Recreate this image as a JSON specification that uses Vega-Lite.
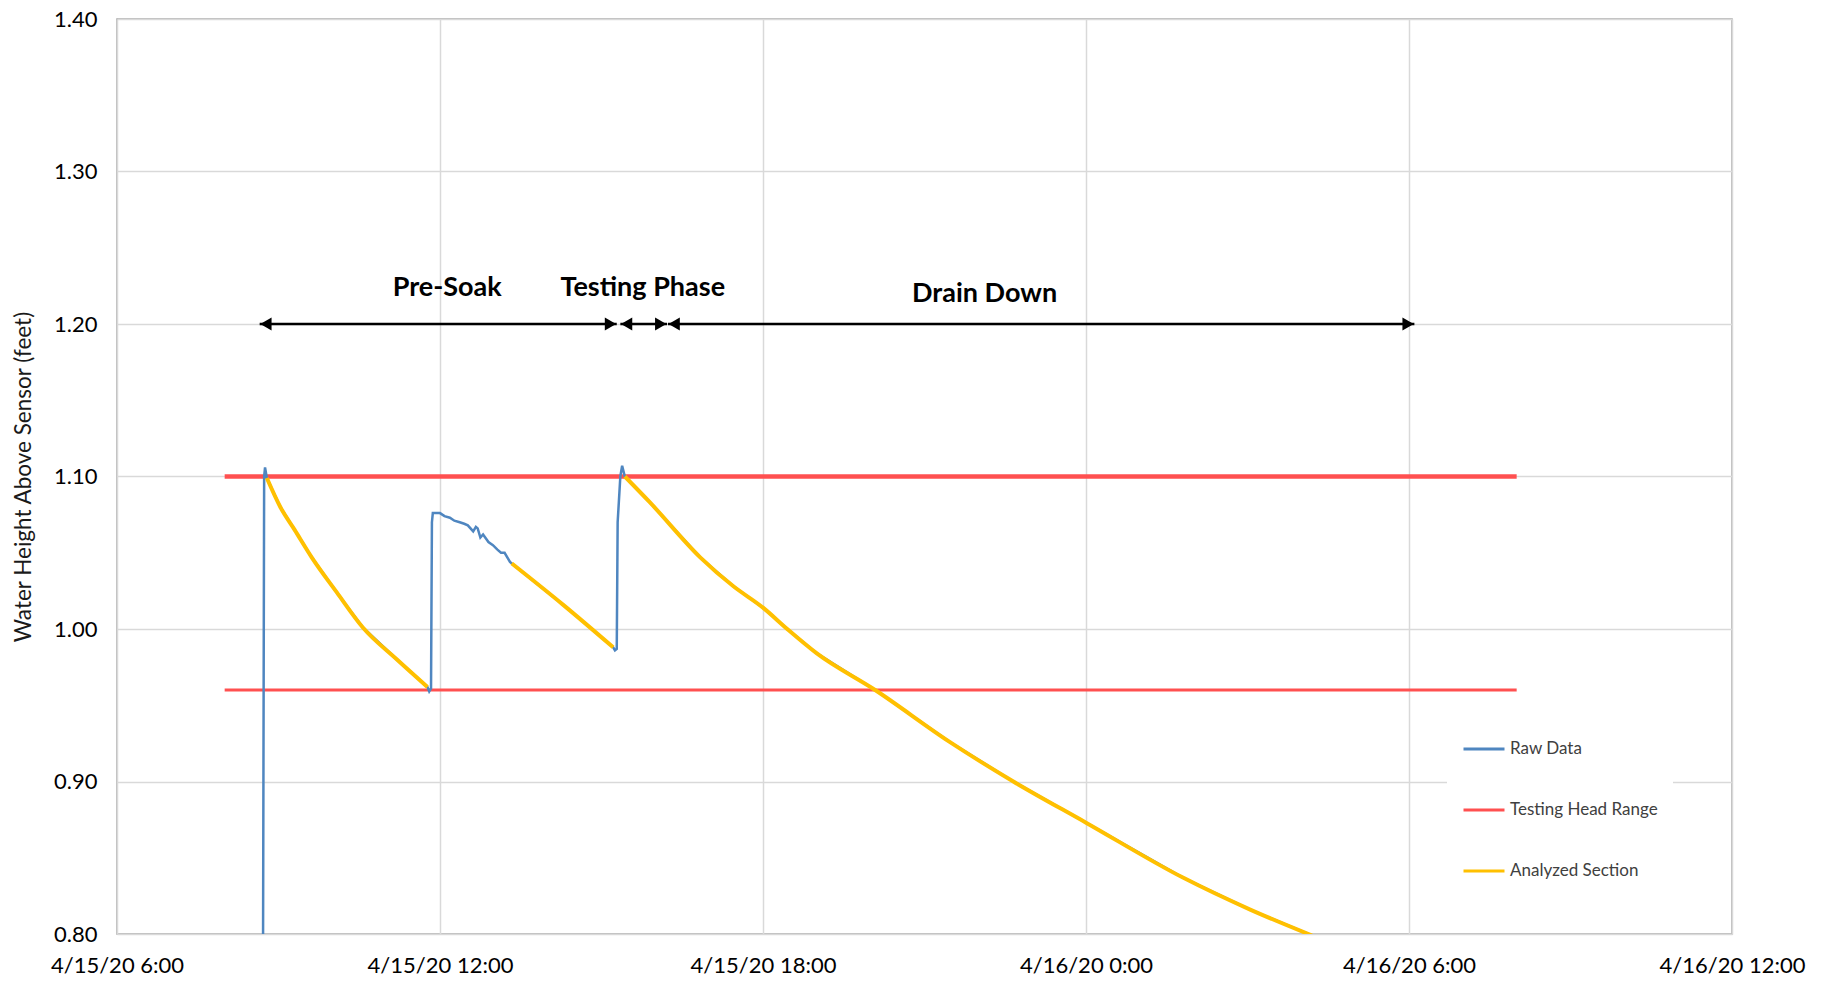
{
  "$schema": "https://vega.github.io/schema/vega-lite/v6.json",
  "width": 1615,
  "height": 915,
  "autosize": {"type": "none"},
  "padding": {"left": 117, "top": 19, "right": 95, "bottom": 47},
  "background": "white",
  "config": {
    "font": "Lato",
    "view": {"stroke": "#a6a6a6", "strokeWidth": 1.5},
    "axis": {
      "grid": true,
      "gridColor": "#d9d9d9",
      "gridWidth": 1.5,
      "domain": false,
      "ticks": false,
      "labelFontSize": 22,
      "labelColor": "#000000",
      "labelFont": "Lato"
    }
  },
  "datasets": {
    "lines": [
      {"series": "Testing Head Range", "seg": "hi", "t": "2020-04-15T08:00", "v": 1.10},
      {"series": "Testing Head Range", "seg": "hi", "t": "2020-04-16T08:00", "v": 1.10},
      {"series": "Testing Head Range", "seg": "lo", "t": "2020-04-15T08:00", "v": 0.96},
      {"series": "Testing Head Range", "seg": "lo", "t": "2020-04-16T08:00", "v": 0.96},

      {"series": "Raw Data", "seg": "raw", "t": "2020-04-15T08:42", "v": 0.60},
      {"series": "Raw Data", "seg": "raw", "t": "2020-04-15T08:44", "v": 1.100},
      {"series": "Raw Data", "seg": "raw", "t": "2020-04-15T08:45", "v": 1.106},
      {"series": "Raw Data", "seg": "raw", "t": "2020-04-15T08:47", "v": 1.099},
      {"series": "Raw Data", "seg": "raw", "t": "2020-04-15T09:02", "v": 1.080},
      {"series": "Raw Data", "seg": "raw", "t": "2020-04-15T09:18", "v": 1.065},
      {"series": "Raw Data", "seg": "raw", "t": "2020-04-15T09:37", "v": 1.047},
      {"series": "Raw Data", "seg": "raw", "t": "2020-04-15T10:05", "v": 1.024},
      {"series": "Raw Data", "seg": "raw", "t": "2020-04-15T10:34", "v": 1.001},
      {"series": "Raw Data", "seg": "raw", "t": "2020-04-15T11:12", "v": 0.980},
      {"series": "Raw Data", "seg": "raw", "t": "2020-04-15T11:46", "v": 0.962},
      {"series": "Raw Data", "seg": "raw", "t": "2020-04-15T11:48", "v": 0.959},
      {"series": "Raw Data", "seg": "raw", "t": "2020-04-15T11:50", "v": 0.961},
      {"series": "Raw Data", "seg": "raw", "t": "2020-04-15T11:51", "v": 1.070},
      {"series": "Raw Data", "seg": "raw", "t": "2020-04-15T11:52", "v": 1.076},
      {"series": "Raw Data", "seg": "raw", "t": "2020-04-15T12:00", "v": 1.076},
      {"series": "Raw Data", "seg": "raw", "t": "2020-04-15T12:05", "v": 1.074},
      {"series": "Raw Data", "seg": "raw", "t": "2020-04-15T12:11", "v": 1.073},
      {"series": "Raw Data", "seg": "raw", "t": "2020-04-15T12:16", "v": 1.071},
      {"series": "Raw Data", "seg": "raw", "t": "2020-04-15T12:22", "v": 1.070},
      {"series": "Raw Data", "seg": "raw", "t": "2020-04-15T12:27", "v": 1.069},
      {"series": "Raw Data", "seg": "raw", "t": "2020-04-15T12:31", "v": 1.068},
      {"series": "Raw Data", "seg": "raw", "t": "2020-04-15T12:37", "v": 1.064},
      {"series": "Raw Data", "seg": "raw", "t": "2020-04-15T12:40", "v": 1.067},
      {"series": "Raw Data", "seg": "raw", "t": "2020-04-15T12:42", "v": 1.066},
      {"series": "Raw Data", "seg": "raw", "t": "2020-04-15T12:45", "v": 1.060},
      {"series": "Raw Data", "seg": "raw", "t": "2020-04-15T12:48", "v": 1.062},
      {"series": "Raw Data", "seg": "raw", "t": "2020-04-15T12:54", "v": 1.057},
      {"series": "Raw Data", "seg": "raw", "t": "2020-04-15T12:59", "v": 1.055},
      {"series": "Raw Data", "seg": "raw", "t": "2020-04-15T13:04", "v": 1.052},
      {"series": "Raw Data", "seg": "raw", "t": "2020-04-15T13:08", "v": 1.050},
      {"series": "Raw Data", "seg": "raw", "t": "2020-04-15T13:12", "v": 1.050},
      {"series": "Raw Data", "seg": "raw", "t": "2020-04-15T13:16", "v": 1.046},
      {"series": "Raw Data", "seg": "raw", "t": "2020-04-15T13:18", "v": 1.044},
      {"series": "Raw Data", "seg": "raw", "t": "2020-04-15T13:20", "v": 1.043},
      {"series": "Raw Data", "seg": "raw", "t": "2020-04-15T14:17", "v": 1.016},
      {"series": "Raw Data", "seg": "raw", "t": "2020-04-15T15:13", "v": 0.988},
      {"series": "Raw Data", "seg": "raw", "t": "2020-04-15T15:15", "v": 0.986},
      {"series": "Raw Data", "seg": "raw", "t": "2020-04-15T15:17", "v": 0.987},
      {"series": "Raw Data", "seg": "raw", "t": "2020-04-15T15:18", "v": 1.070},
      {"series": "Raw Data", "seg": "raw", "t": "2020-04-15T15:21", "v": 1.100},
      {"series": "Raw Data", "seg": "raw", "t": "2020-04-15T15:23", "v": 1.107},
      {"series": "Raw Data", "seg": "raw", "t": "2020-04-15T15:26", "v": 1.100},
      {"series": "Raw Data", "seg": "raw", "t": "2020-04-15T15:54", "v": 1.083},
      {"series": "Raw Data", "seg": "raw", "t": "2020-04-15T16:50", "v": 1.047},
      {"series": "Raw Data", "seg": "raw", "t": "2020-04-15T17:27", "v": 1.028},
      {"series": "Raw Data", "seg": "raw", "t": "2020-04-15T18:00", "v": 1.014},
      {"series": "Raw Data", "seg": "raw", "t": "2020-04-15T18:27", "v": 1.000},
      {"series": "Raw Data", "seg": "raw", "t": "2020-04-15T19:00", "v": 0.984},
      {"series": "Raw Data", "seg": "raw", "t": "2020-04-15T20:05", "v": 0.960},
      {"series": "Raw Data", "seg": "raw", "t": "2020-04-15T21:28", "v": 0.926},
      {"series": "Raw Data", "seg": "raw", "t": "2020-04-15T22:39", "v": 0.900},
      {"series": "Raw Data", "seg": "raw", "t": "2020-04-16T00:00", "v": 0.873},
      {"series": "Raw Data", "seg": "raw", "t": "2020-04-16T01:48", "v": 0.837},
      {"series": "Raw Data", "seg": "raw", "t": "2020-04-16T03:03", "v": 0.816},
      {"series": "Raw Data", "seg": "raw", "t": "2020-04-16T04:12", "v": 0.799},

      {"series": "Analyzed Section", "seg": "a1", "t": "2020-04-15T08:47", "v": 1.099},
      {"series": "Analyzed Section", "seg": "a1", "t": "2020-04-15T09:02", "v": 1.080},
      {"series": "Analyzed Section", "seg": "a1", "t": "2020-04-15T09:18", "v": 1.065},
      {"series": "Analyzed Section", "seg": "a1", "t": "2020-04-15T09:37", "v": 1.047},
      {"series": "Analyzed Section", "seg": "a1", "t": "2020-04-15T10:05", "v": 1.024},
      {"series": "Analyzed Section", "seg": "a1", "t": "2020-04-15T10:34", "v": 1.001},
      {"series": "Analyzed Section", "seg": "a1", "t": "2020-04-15T11:12", "v": 0.980},
      {"series": "Analyzed Section", "seg": "a1", "t": "2020-04-15T11:46", "v": 0.962},
      {"series": "Analyzed Section", "seg": "a2", "t": "2020-04-15T13:20", "v": 1.043},
      {"series": "Analyzed Section", "seg": "a2", "t": "2020-04-15T14:17", "v": 1.016},
      {"series": "Analyzed Section", "seg": "a2", "t": "2020-04-15T15:13", "v": 0.988},
      {"series": "Analyzed Section", "seg": "a3", "t": "2020-04-15T15:26", "v": 1.100},
      {"series": "Analyzed Section", "seg": "a3", "t": "2020-04-15T15:54", "v": 1.083},
      {"series": "Analyzed Section", "seg": "a3", "t": "2020-04-15T16:50", "v": 1.047},
      {"series": "Analyzed Section", "seg": "a3", "t": "2020-04-15T17:27", "v": 1.028},
      {"series": "Analyzed Section", "seg": "a3", "t": "2020-04-15T18:00", "v": 1.014},
      {"series": "Analyzed Section", "seg": "a3", "t": "2020-04-15T18:27", "v": 1.000},
      {"series": "Analyzed Section", "seg": "a3", "t": "2020-04-15T19:00", "v": 0.984},
      {"series": "Analyzed Section", "seg": "a3", "t": "2020-04-15T20:05", "v": 0.960},
      {"series": "Analyzed Section", "seg": "a3", "t": "2020-04-15T21:28", "v": 0.926},
      {"series": "Analyzed Section", "seg": "a3", "t": "2020-04-15T22:39", "v": 0.900},
      {"series": "Analyzed Section", "seg": "a3", "t": "2020-04-16T00:00", "v": 0.873},
      {"series": "Analyzed Section", "seg": "a3", "t": "2020-04-16T01:48", "v": 0.837},
      {"series": "Analyzed Section", "seg": "a3", "t": "2020-04-16T03:03", "v": 0.816},
      {"series": "Analyzed Section", "seg": "a3", "t": "2020-04-16T04:12", "v": 0.799}
    ],
    "arrows": [
      {"phase": "Pre-Soak", "t": "2020-04-15T08:39", "t2": "2020-04-15T15:17", "v": 1.20},
      {"phase": "Testing Phase", "t": "2020-04-15T15:21", "t2": "2020-04-15T16:13", "v": 1.20},
      {"phase": "Drain Down", "t": "2020-04-15T16:14", "t2": "2020-04-16T06:06", "v": 1.20}
    ],
    "heads": [
      {"phase": "Pre-Soak", "dir": "left", "t": "2020-04-15T08:46", "v": 1.20},
      {"phase": "Pre-Soak", "dir": "right", "t": "2020-04-15T15:10", "v": 1.20},
      {"phase": "Testing Phase", "dir": "left", "t": "2020-04-15T15:28", "v": 1.20},
      {"phase": "Testing Phase", "dir": "right", "t": "2020-04-15T16:06", "v": 1.20},
      {"phase": "Drain Down", "dir": "left", "t": "2020-04-15T16:21", "v": 1.20},
      {"phase": "Drain Down", "dir": "right", "t": "2020-04-16T05:59", "v": 1.20}
    ],
    "labels": [
      {"label": "Pre-Soak", "t": "2020-04-15T12:08", "v": 1.2236},
      {"label": "Testing Phase", "t": "2020-04-15T15:46", "v": 1.2236},
      {"label": "Drain Down", "t": "2020-04-15T22:07", "v": 1.2200}
    ]
  },
  "encoding": {
    "x": {
      "field": "t",
      "type": "temporal",
      "scale": {
        "domain": [
          {"year": 2020, "month": 4, "date": 15, "hours": 6},
          {"year": 2020, "month": 4, "date": 16, "hours": 12}
        ]
      },
      "axis": {
        "title": null,
        "values": [
          {"year": 2020, "month": 4, "date": 15, "hours": 6},
          {"year": 2020, "month": 4, "date": 15, "hours": 12},
          {"year": 2020, "month": 4, "date": 15, "hours": 18},
          {"year": 2020, "month": 4, "date": 16, "hours": 0},
          {"year": 2020, "month": 4, "date": 16, "hours": 6},
          {"year": 2020, "month": 4, "date": 16, "hours": 12}
        ],
        "format": "%-m/%-d/%y %-H:%M",
        "labelPadding": 21,
        "labelOverlap": false,
        "labelFlush": false
      }
    },
    "y": {
      "field": "v",
      "type": "quantitative",
      "scale": {"domain": [0.8, 1.4], "zero": false, "nice": false},
      "axis": {
        "values": [0.8, 0.9, 1.0, 1.1, 1.2, 1.3, 1.4],
        "format": ".2f",
        "title": "Water Height Above Sensor (feet)",
        "titleFontSize": 22.5,
        "titleFontWeight": "normal",
        "titleColor": "#1a1a1a",
        "titlePadding": 18,
        "labelPadding": 20
      }
    }
  },
  "layer": [
    {
      "data": {"name": "lines"},
      "transform": [{"filter": "datum.seg === 'hi'"}],
      "mark": {"type": "line", "strokeWidth": 4.5, "clip": true},
      "encoding": {
        "detail": {"field": "seg"},
        "color": {
          "field": "series",
          "type": "nominal",
          "scale": {
            "domain": ["Raw Data", "Testing Head Range", "Analyzed Section"],
            "range": ["#4f86c0", "#ff5050", "#ffc000"]
          },
          "legend": {
            "title": null,
            "orient": "none",
            "legendX": 1330,
            "legendY": 693,
            "symbolType": "stroke",
            "symbolStrokeWidth": 3,
            "symbolSize": 1681,
            "labelFontSize": 17,
            "labelColor": "#404040",
            "labelFont": "Lato",
            "rowPadding": 31,
            "padding": 15,
            "fillColor": "white",
            "labelOffset": 4
          }
        }
      }
    },
    {
      "data": {"name": "lines"},
      "transform": [{"filter": "datum.seg === 'lo'"}],
      "mark": {"type": "line", "strokeWidth": 3, "clip": true},
      "encoding": {
        "detail": {"field": "seg"},
        "color": {"field": "series", "type": "nominal"}
      }
    },
    {
      "data": {"name": "lines"},
      "transform": [{"filter": "datum.seg === 'raw'"}],
      "mark": {"type": "line", "strokeWidth": 2.5, "clip": true},
      "encoding": {
        "detail": {"field": "seg"},
        "color": {"field": "series", "type": "nominal"}
      }
    },
    {
      "data": {"name": "lines"},
      "transform": [{"filter": "datum.series === 'Analyzed Section'"}],
      "mark": {"type": "line", "strokeWidth": 4, "clip": true, "interpolate": "monotone"},
      "encoding": {
        "detail": {"field": "seg"},
        "color": {"field": "series", "type": "nominal"}
      }
    },
    {
      "data": {"name": "arrows"},
      "mark": {"type": "rule", "color": "#000000", "strokeWidth": 2.5},
      "encoding": {
        "x2": {"field": "t2"}
      }
    },
    {
      "data": {"name": "heads"},
      "mark": {"type": "point", "filled": true, "color": "#000000", "opacity": 1, "size": 170},
      "encoding": {
        "shape": {
          "field": "dir",
          "type": "nominal",
          "scale": {"domain": ["left", "right"], "range": ["triangle-left", "triangle-right"]},
          "legend": null
        }
      }
    },
    {
      "data": {"name": "labels"},
      "mark": {"type": "text", "font": "Lato", "fontSize": 27, "fontWeight": "bold", "color": "#000000", "align": "center", "baseline": "middle"},
      "encoding": {
        "text": {"field": "label"}
      }
    }
  ]
}
